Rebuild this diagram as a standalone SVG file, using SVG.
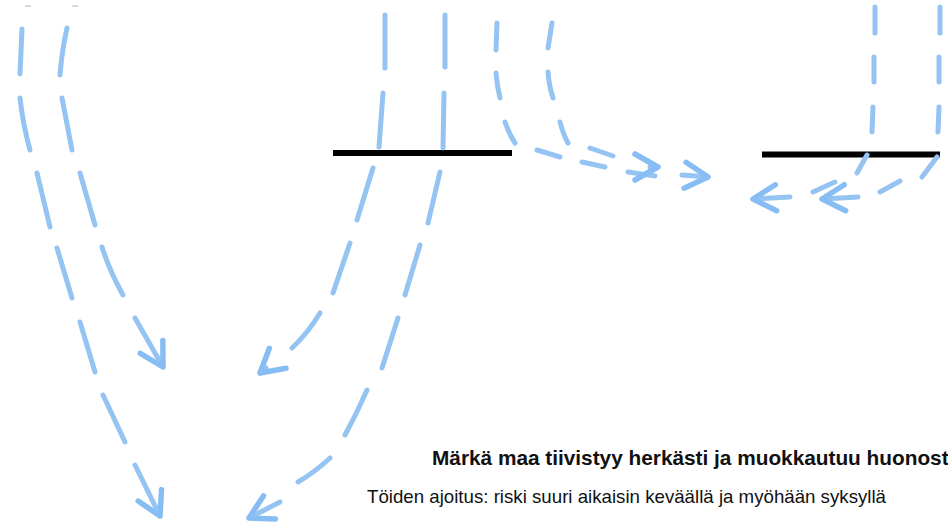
<svg xmlns="http://www.w3.org/2000/svg" width="948" height="525" viewBox="0 0 948 525">
  <style>
    .flow { fill: none; stroke: #95c4f2; stroke-width: 5; stroke-linecap: round; stroke-linejoin: round; }
    .surface { stroke: #000000; stroke-width: 6; stroke-linecap: butt; }
    .tick { stroke: #c9ccd2; stroke-width: 1.5; }
    .title { font-family: "Liberation Sans", Arial, sans-serif; font-weight: bold; font-size: 20.8px; fill: #111111; }
    .note { font-family: "Liberation Sans", Arial, sans-serif; font-size: 18.5px; fill: #111111; }
  </style>
  <defs>
    <!-- open chevron head, tip at the path end -->
    <marker id="head" markerUnits="userSpaceOnUse" viewBox="-32 -20 42 40" markerWidth="42" markerHeight="40" refX="0" refY="0" orient="auto">
      <path d="M-23,-13 L0,0 L-23,13" fill="none" stroke="#88bdf4" stroke-width="5.5" stroke-linecap="round" stroke-linejoin="round"/>
    </marker>
  </defs>

  <rect width="948" height="525" fill="#ffffff"/>

  <!-- small marks at the top edge -->
  <line class="tick" x1="25" y1="6" x2="31" y2="6"/>
  <line class="tick" x1="72" y1="6" x2="78" y2="6"/>

  <!-- ground surfaces -->
  <g id="surface-left">
    <line class="surface" x1="333" y1="153" x2="512" y2="153"/>
  </g>
  <g id="surface-right">
    <line class="surface" x1="762" y1="154.5" x2="940" y2="154.5" stroke-width="5"/>
  </g>

  <!-- water flow paths, one dashed connector each -->
  <g id="connectors">
    <path id="flow-a" class="flow" marker-end="url(#head)" d="M22,29 L20,74 M20,98 Q23,125 30,150 M37,173 L50,227 M57,248 L72,298 M80,322 L95,372 M103,395 L125,442 M135,465 L160,516"/>
    <path id="flow-b" class="flow" marker-end="url(#head)" d="M67,28 Q62,50 60,75 M62,98 L72,150 M80,173 L95,225 M102,247 Q110,272 123,295 M135,318 L163,367"/>
    <path id="flow-c" class="flow" marker-end="url(#head)" d="M385,15 L385,68 M383,93 L379,147 M373,168 L357,220 M350,243 L333,293 M320,313 Q308,333 292,348 M266,368 L260,373"/>
    <path id="flow-d" class="flow" marker-end="url(#head)" d="M445,15 L445,67 M444,93 L443,148 M440,172 L428,223 M420,245 L405,295 M398,318 L382,368 M367,390 Q357,413 345,435 M330,458 Q315,472 298,482 M280,502 L249,518"/>
    <path id="flow-e" class="flow" marker-end="url(#head)" d="M497,23 L496,50 M496,73 Q497,86 500,98 M505,122 Q509,134 515,143 M537,150 L560,157 M582,162 L605,167 M628,172 L655,176 M682,175 L708,177"/>
    <path id="flow-f" class="flow" marker-end="url(#head)" d="M552,23 L548,48 M548,72 Q549,86 553,98 M560,122 Q563,134 568,143 M590,148 L613,156 M650,167 L658,167"/>
    <path id="flow-g" class="flow" marker-end="url(#head)" d="M875,7 L875,33 M874,57 L874,82 M873,107 L872,132 M867,155 L857,173 M835,182 L813,192 M790,197 L753,199"/>
    <path id="flow-h" class="flow" marker-end="url(#head)" d="M940,7 L940,33 M939,57 L939,82 M939,107 L938,132 M937,157 L922,177 M900,181 L880,192 M858,197 L822,199"/>
  </g>

  <!-- captions -->
  <g id="captions">
    <text class="title" x="432" y="465">Märkä maa tiivistyy herkästi ja muokkautuu huonosti</text>
    <text class="note" x="367" y="503" textLength="519" lengthAdjust="spacingAndGlyphs">Töiden ajoitus: riski suuri aikaisin keväällä ja myöhään syksyllä</text>
  </g>
</svg>
